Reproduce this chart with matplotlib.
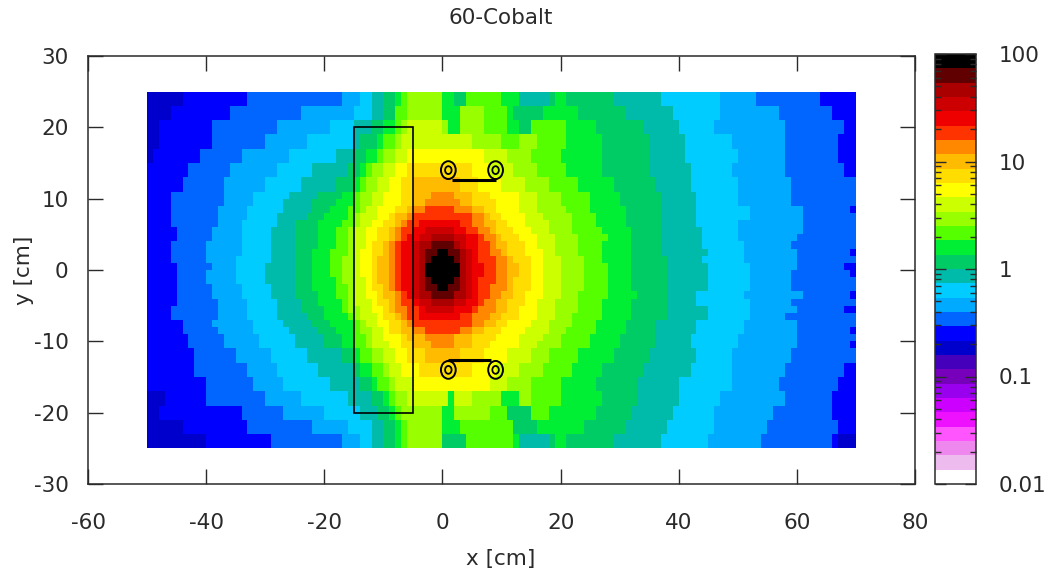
import matplotlib
matplotlib.use("Agg")
import matplotlib.pyplot as plt
from matplotlib.colors import ListedColormap, LogNorm
from matplotlib.patches import Circle, Rectangle
import numpy as np

# palette bottom to top, 30 steps over 4 decades
palette = ['#ffffff', '#eebbee', '#ee88ee', '#ff55ff', '#ee11ff', '#cc00ff',
           '#9900ee', '#7700bb', '#4400bb', '#0000cc', '#0000ff', '#0066ff',
           '#00aaff', '#00ccff', '#00bbaa', '#00cc66', '#00ee33', '#55ff00',
           '#99ff00', '#ccff00', '#ffff00', '#ffdd00', '#ffbb00', '#ff8800',
           '#ff3300', '#ee0000', '#cc0000', '#aa0000', '#600000', '#000000']

y_edges = [25, 23, 21, 19, 17, 15, 13, 11, 10, 9, 8, 7, 6, 5, 4, 3, 2, 1, 0,
           -1, -2, -3, -4, -5, -6, -7, -8, -9, -10, -11, -13, -15, -17, -19, -21, -23, -25]

# one entry per row, top to bottom: "band:x where the band ends"
rows = [
    "9:-44 10:-33 11:-17 12:-14 13:-12 14:-10 15:-8 16:-7 17:-6 18:0 16:2 15:4 17:10 16:13 14:18 15:19 16:21 15:29 14:37 13:47 12:53 11:64 10:70",
    "9:-46 10:-36 11:-24 12:-15 13:-12 14:-10 15:-8 17:-6 18:0 16:3 18:7 17:11 16:12 15:17 16:23 15:31 14:39 13:47 12:57 11:66 10:70",
    "9:-48 10:-39 11:-28 12:-19 13:-15 14:-12 15:-10 16:-8 17:-7 18:-6 19:0 18:1 16:3 18:7 17:11 16:13 15:15 17:21 16:26 15:34 14:40 13:46 12:58 11:68 10:70",
    "9:-48 10:-39 11:-30 12:-23 13:-15 14:-14 15:-11 16:-10 17:-8 18:-7 19:5 18:10 17:13 18:16 17:21 16:27 15:35 14:41 13:49 12:58 11:67 10:70",
    "9:-49 10:-41 11:-34 12:-26 13:-18 14:-15 15:-13 16:-11 17:-10 18:-8 19:-6 20:7 19:11 18:15 17:20 16:27 15:35 14:41 13:50 12:58 11:67 10:70",
    "10:-43 11:-36 12:-28 13:-22 14:-16 15:-14 16:-13 17:-12 18:-10 19:-8 20:-6 21:5 20:8 19:12 18:16 17:21 16:27 15:35 14:42 13:49 12:58 11:68 10:70",
    "10:-44 11:-37 12:-30 13:-24 14:-18 15:-15 16:-14 17:-13 18:-11 19:-9 20:-7 21:-5 22:3 21:6 20:10 19:14 18:18 17:23 16:29 15:36 14:42 13:50 12:59 11:70",
    "10:-46 11:-37 12:-32 13:-26 14:-21 15:-17 16:-15 17:-14 18:-12 19:-10 20:-7 21:-5 22:-2 23:2 22:5 21:8 20:13 19:16 18:20 17:25 16:30 15:37 14:43 13:50 12:59 11:70",
    "10:-46 11:-37 12:-32 13:-27 14:-22 15:-18 16:-15 17:-14 18:-12 19:-10 20:-7 21:-5 22:-3 23:3 22:5 21:9 20:13 19:16 18:20 17:25 16:30 15:37 14:43 13:50 12:59 11:70",
    "10:-46 11:-38 12:-33 13:-27 14:-22 15:-19 16:-16 17:-14 18:-13 19:-11 20:-8 21:-6 22:-5 23:-3 24:2 23:5 22:7 21:9 20:13 19:16 18:21 17:25 16:31 15:37 14:43 13:52 12:61 11:69 10:70",
    "10:-46 11:-38 12:-33 13:-28 14:-23 15:-20 16:-16 17:-15 18:-14 19:-11 20:-9 21:-8 22:-6 23:-5 24:5 23:7 22:8 21:10 20:14 19:17 18:22 17:26 16:31 15:37 14:43 13:52 12:61 11:70",
    "10:-46 11:-38 12:-34 13:-28 14:-25 15:-21 16:-17 17:-15 18:-14 19:-12 20:-10 21:-8 22:-7 23:-6 24:-4 25:3 24:5 23:7 22:9 21:11 20:14 19:18 18:22 17:26 16:31 15:37 14:43 13:50 12:61 11:70",
    "10:-45 11:-39 12:-34 13:-29 14:-25 15:-21 16:-18 17:-16 18:-15 19:-13 20:-11 21:-9 22:-8 23:-7 24:-5 25:-3 26:2 25:4 24:6 23:8 22:9 21:12 20:15 19:18 18:22 17:27 16:32 15:37 14:44 13:50 12:61 11:70",
    "10:-45 11:-39 12:-34 13:-29 14:-25 15:-21 16:-18 17:-16 18:-15 19:-13 20:-11 21:-9 22:-8 23:-7 24:-6 25:-4 26:-2 27:2 26:4 25:6 24:7 23:9 22:10 21:13 20:16 19:19 18:23 17:28 16:32 15:37 14:44 13:50 12:60 11:70",
    "10:-46 11:-40 12:-34 13:-29 14:-25 15:-21 16:-18 17:-16 18:-15 19:-13 20:-12 21:-10 22:-9 23:-8 24:-7 25:-5 26:-4 27:-2 28:2 27:3 26:4 25:6 24:8 23:9 22:11 21:14 20:16 19:19 18:23 17:27 16:32 15:37 14:44 13:51 12:59 11:70",
    "10:-46 11:-40 12:-34 13:-29 14:-25 15:-22 16:-19 17:-16 18:-15 19:-14 20:-12 21:-10 22:-9 23:-8 24:-7 25:-5 26:-4 27:-3 28:-1 29:1 28:3 27:4 26:5 25:6 24:8 23:10 22:11 21:14 20:17 19:19 18:23 17:27 16:32 15:37 14:45 13:51 12:60 11:69 10:70",
    "10:-46 11:-40 12:-35 13:-29 14:-25 15:-22 16:-19 17:-17 18:-15 19:-14 20:-12 21:-11 22:-9 23:-8 24:-7 25:-5 26:-4 27:-3 28:-2 29:2 28:3 27:4 26:5 25:6 24:9 23:11 22:12 21:15 20:17 19:20 18:24 17:27 16:32 15:38 14:44 13:51 12:60 11:70",
    "10:-45 11:-39 12:-35 13:-30 14:-25 15:-22 16:-19 17:-17 18:-15 19:-14 20:-12 21:-11 22:-9 23:-8 24:-7 25:-5 26:-4 27:-3 29:3 27:4 26:5 25:7 24:9 23:11 22:13 21:15 20:17 19:20 18:24 17:28 16:32 15:38 14:45 13:52 12:60 11:68 10:70",
    "10:-45 11:-40 12:-35 13:-30 14:-25 15:-22 16:-19 17:-17 18:-15 19:-14 20:-12 21:-11 22:-9 23:-8 24:-7 25:-5 26:-4 27:-3 29:3 27:4 26:5 25:7 24:9 23:11 22:13 21:15 20:17 19:20 18:24 17:28 16:32 15:38 14:45 13:52 12:59 11:69 10:70",
    "10:-45 11:-40 12:-35 13:-30 14:-25 15:-22 16:-18 17:-17 18:-15 19:-13 20:-12 21:-11 22:-9 23:-8 24:-7 25:-5 26:-4 27:-3 28:-2 29:2 28:3 27:4 26:5 25:6 24:9 23:11 22:12 21:15 20:17 19:20 18:24 17:28 16:32 15:38 14:45 13:52 12:59 11:70",
    "10:-45 11:-39 12:-34 13:-29 14:-25 15:-22 16:-18 17:-16 18:-15 19:-13 20:-12 21:-10 22:-9 23:-8 24:-7 25:-5 26:-4 27:-3 28:-1 29:1 28:3 27:4 26:5 25:6 24:8 23:11 22:12 21:15 20:17 19:20 18:24 17:28 16:32 15:38 14:45 13:52 12:59 11:70",
    "10:-45 11:-39 12:-34 13:-29 14:-25 15:-21 16:-18 17:-16 18:-15 19:-13 20:-11 21:-10 22:-8 23:-7 24:-6 25:-5 26:-4 27:-2 28:2 27:4 26:5 25:6 24:8 23:10 22:12 21:14 20:17 19:20 18:23 17:28 16:33 15:38 14:43 13:51 12:61 11:69 10:70",
    "10:-45 11:-38 12:-33 13:-28 14:-24 15:-21 16:-17 17:-16 18:-15 19:-12 20:-11 21:-9 22:-8 23:-7 24:-5 25:-4 26:-2 27:2 26:4 25:6 24:7 23:9 22:11 21:14 20:16 19:19 18:23 17:27 16:32 15:38 14:43 13:52 12:59 11:70",
    "10:-46 11:-38 12:-33 13:-28 14:-24 15:-20 16:-17 17:-16 18:-14 19:-12 20:-10 21:-9 22:-8 23:-6 24:-4 25:-3 26:2 25:5 24:6 23:9 22:11 21:13 20:16 19:19 18:23 17:27 16:32 15:38 14:45 13:52 12:60 11:68 10:70",
    "10:-46 11:-38 12:-33 13:-28 14:-23 15:-20 16:-16 17:-15 18:-14 19:-11 20:-10 21:-8 22:-7 23:-6 24:-4 25:3 24:5 23:8 22:10 21:13 20:16 19:19 18:22 17:27 16:32 15:38 14:45 13:52 12:58 11:70",
    "10:-44 11:-39 12:-32 13:-27 14:-22 15:-19 16:-15 17:-14 18:-13 19:-11 20:-9 21:-7 22:-6 23:-5 24:5 23:7 22:9 21:11 20:15 19:18 18:22 17:26 16:31 15:36 14:43 13:51 12:60 11:70",
    "10:-44 11:-38 12:-32 13:-26 14:-21 15:-18 16:-15 17:-14 18:-12 19:-10 20:-9 21:-7 22:-5 23:-3 24:3 23:5 22:7 21:10 20:14 19:18 18:21 17:26 16:31 15:36 14:43 13:51 12:60 11:69 10:70",
    "10:-43 11:-37 12:-31 13:-25 14:-20 15:-17 16:-15 17:-13 18:-12 19:-10 20:-7 21:-6 22:-3 23:2 22:5 21:9 20:13 19:17 18:20 17:25 16:30 15:36 14:42 13:50 12:60 11:70",
    "10:-43 11:-37 12:-31 13:-25 14:-20 15:-17 16:-15 17:-13 18:-12 19:-9 20:-7 21:-5 22:-2 23:2 22:5 21:8 20:13 19:16 18:20 17:25 16:30 15:36 14:42 13:50 12:60 11:69 10:70",
    "10:-42 11:-35 12:-29 13:-23 14:-17 15:-15 16:-14 17:-12 18:-10 19:-8 20:-6 21:-3 22:3 21:7 20:11 19:15 18:18 17:23 16:29 15:35 14:43 13:49 12:59 11:70",
    "10:-42 11:-33 12:-28 13:-21 14:-15 15:-14 16:-12 17:-10 18:-9 19:-7 20:-4 21:5 20:9 19:13 18:17 17:22 16:27 15:34 14:42 13:49 12:58 11:68 10:70",
    "10:-40 11:-32 12:-27 13:-19 14:-14 15:-12 16:-11 17:-9 18:-8 19:-5 20:8 19:11 18:15 17:20 16:26 15:33 14:40 13:49 12:57 11:67 10:70",
    "9:-47 10:-40 11:-30 12:-24 13:-16 14:-12 15:-10 16:-9 17:-8 18:-6 19:1 16:2 19:5 18:10 16:13 18:15 17:20 16:27 15:33 14:40 13:47 12:58 11:66 10:70",
    "9:-48 10:-34 11:-27 12:-20 13:-14 14:-11 15:-9 16:-8 17:-7 18:0 16:2 18:8 17:11 15:15 17:18 16:26 15:32 14:39 13:46 12:56 11:66 10:70",
    "9:-44 10:-33 11:-22 12:-16 13:-12 14:-10 15:-8 16:-7 17:-6 18:0 16:3 17:12 15:16 16:24 15:31 14:38 13:46 12:55 11:67 10:70",
    "9:-40 10:-29 11:-17 12:-14 13:-12 14:-10 15:-8 16:-7 17:-6 18:0 15:4 17:12 16:13 14:18 15:19 16:21 15:29 14:37 13:45 12:54 11:66 10:67 9:70",
]

coil_x = [1, 9]
coil_y = [14, -14]
bar_top = ([1.6, 9], 12.55)
bar_bottom = ([1, 8.2], -12.55)
block = (-15, -20, 10, 40)

x_edges = np.arange(-50, 71)
dose = np.zeros((len(rows), len(x_edges) - 1))
for i, row in enumerate(rows):
    start = -50
    for part in row.split():
        band, end = part.split(':')
        dose[i, start + 50:int(end) + 50] = 0.01 * 10 ** ((int(band) + 0.5) * 4 / 30)
        start = int(end)

ink = '#2a2a2a'
plt.rcParams['font.family'] = 'DejaVu Sans'
plt.rcParams['font.size'] = 15.5
plt.rcParams['text.color'] = ink
plt.rcParams['axes.unicode_minus'] = False

fig = plt.figure(figsize=(10.5, 5.76), dpi=100)
ax = fig.add_axes([88 / 1050, 92 / 576, 827 / 1050, 428 / 576])
cax = fig.add_axes([935 / 1050, 92 / 576, 41 / 1050, 430 / 576])

cmap = ListedColormap(palette)
norm = LogNorm(vmin=0.01, vmax=100)
mesh = ax.pcolormesh(x_edges, y_edges, dose, cmap=cmap, norm=norm)

ax.add_patch(Rectangle(block[:2], block[2], block[3], fill=False, edgecolor='black', linewidth=1.2))
for cy in coil_y:
    for cx in coil_x:
        ax.add_patch(Circle((cx, cy), 1.25, fill=False, edgecolor='black', linewidth=1.4))
        ax.add_patch(Circle((cx, cy), 0.55, fill=False, edgecolor='black', linewidth=1.3))
ax.plot(bar_top[0], [bar_top[1]] * 2, color='black', linewidth=2.2, solid_capstyle='butt')
ax.plot(bar_bottom[0], [bar_bottom[1]] * 2, color='black', linewidth=2.2, solid_capstyle='butt')

ax.set_xlim(-60, 80)
ax.set_ylim(-30, 30)
ax.set_xticks(np.arange(-60, 81, 20))
ax.set_yticks(np.arange(-30, 31, 10))
ax.tick_params(direction='in', top=True, right=True, length=11, width=1.0, color=ink, labelcolor=ink)
ax.tick_params(axis='x', pad=21)
ax.tick_params(axis='y', pad=14)
for s in ax.spines.values():
    s.set_linewidth(1.1)
    s.set_color(ink)

fig.text(501 / 1050, 1 - 18 / 576, '60-Cobalt', ha='center', va='center')
fig.text(501 / 1050, 1 - 559 / 576, 'x [cm]', ha='center', va='center')
fig.text(24 / 1050, 1 - 270 / 576, 'y [cm]', ha='center', va='center', rotation=90)

cb = fig.colorbar(mesh, cax=cax)
cb.set_ticks([0.01, 0.1, 1, 10, 100])
cb.set_ticklabels(['0.01', '0.1', '1', '10', '100'])
cax.tick_params(which='major', direction='in', left=True, right=True, length=8, width=1.0, pad=16, color=ink, labelcolor=ink)
cax.tick_params(which='minor', direction='in', left=True, right=True, length=4.3, width=1.0, color=ink)
cb.outline.set_linewidth(1.1)
cb.outline.set_edgecolor(ink)

fig.savefig('out.png', dpi=100)
